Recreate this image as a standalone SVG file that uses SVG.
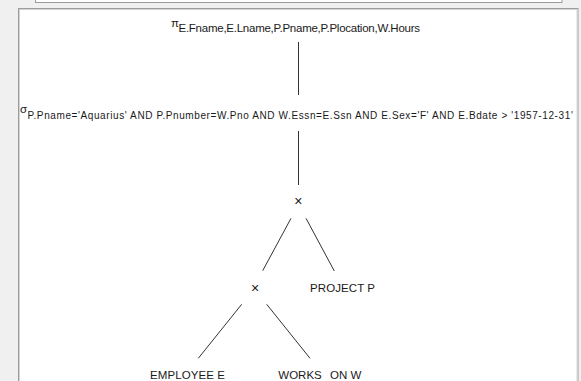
<svg xmlns="http://www.w3.org/2000/svg" width="581" height="381" viewBox="0 0 581 381">
<style>
.t{font-family:"Liberation Sans",Arial,sans-serif;font-size:11.5px;fill:#1a1a1a}
.s{font-size:10px}
.x{font-size:14px}
.e{stroke:#333;stroke-width:1;fill:none}
.b1{fill:#fff;stroke:#9c9c9c;stroke-width:1}
.b2{fill:none;stroke:#d4d4d4;stroke-width:1}
</style>
<rect x="0" y="0" width="581" height="381" fill="#f0f0f0"/>
<g id="top-panel">
<rect class="b1" x="35.5" y="-10" width="526.5" height="12.5"/>
</g>
<g id="main-panel">
<rect class="b1" x="18.5" y="8.5" width="559.5" height="380"/>
<rect class="b2" x="19.5" y="9.5" width="557.5" height="380"/>
</g>
<g id="connectors">
<line class="e" x1="298.5" y1="42" x2="298.5" y2="95"/>
<line class="e" x1="298.5" y1="131" x2="298.5" y2="185"/>
<line class="e" x1="291" y1="218.3" x2="262.7" y2="270.7"/>
<line class="e" x1="306" y1="218.3" x2="334.3" y2="271"/>
<line class="e" x1="241.7" y1="304.3" x2="198.3" y2="358.3"/>
<line class="e" x1="266.7" y1="304.3" x2="310" y2="358.3"/>
</g>
<g id="projection">
<text class="t" x="171" y="27">π<tspan x="178.5" y="31.5" textLength="241.5" lengthAdjust="spacing">E.Fname,E.Lname,P.Pname,P.Plocation,W.Hours</tspan></text>
</g>
<g id="selection">
<text class="t" x="20" y="113">σ<tspan class="s" x="27.5" y="118.5" textLength="545.3" lengthAdjust="spacing">P.Pname='Aquarius' AND P.Pnumber=W.Pno AND W.Essn=E.Ssn AND E.Sex='F' AND E.Bdate &gt; '1957-12-31'</tspan></text>
</g>
<g id="cross1">
<text class="t x" x="298.3" y="206" text-anchor="middle">×</text>
</g>
<g id="cross2">
<text class="t x" x="255" y="292.5" text-anchor="middle">×</text>
</g>
<g id="project">
<text class="t" x="310" y="292.3" textLength="65" lengthAdjust="spacing">PROJECT P</text>
</g>
<g id="employee">
<text class="t" x="150" y="378.5" textLength="75" lengthAdjust="spacing">EMPLOYEE E</text>
</g>
<g id="works-on">
<text class="t" x="278.3" y="378.5">WORKS <tspan dx="5">ON W</tspan></text>
</g>
</svg>
